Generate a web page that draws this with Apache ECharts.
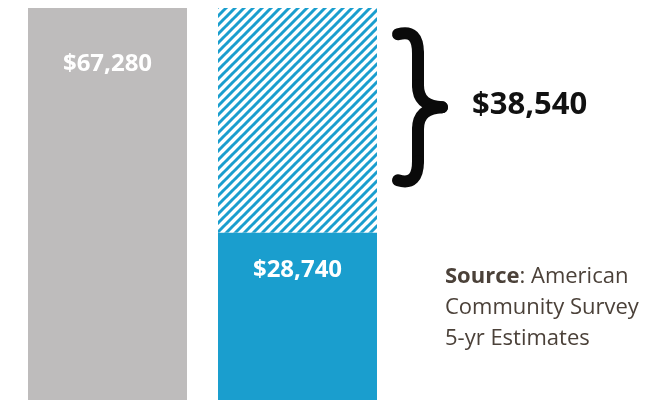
<!DOCTYPE html>
<html>
<head>
<meta charset="utf-8">
<script src="https://cdn.jsdelivr.net/npm/echarts@6/dist/echarts.min.js"></script>
<style>
  html, body { margin: 0; padding: 0; background: #ffffff; }
  #chart { width: 656px; height: 402px; }
</style>
</head>
<body>
<div id="chart"></div>
<script>
// Two columns: the full amount, and the earned part with the shortfall stacked on top
const categories = ['Needed', 'Earned'];
const baseValues = [67280, 28740];
const gapValues = [null, 38540];
const sourceLines = ['{b|Source}: American', 'Community Survey', '5-yr Estimates'];

const GRAY = '#bebcbc';
const BLUE = '#1a9ece';

function money(v) {
  return '$' + Number(v).toLocaleString('en-US');
}

// Diagonal stripe tile for the shortfall segment
function stripeTile() {
  const n = 9;
  const c = document.createElement('canvas');
  c.width = n; c.height = n;
  const g = c.getContext('2d');
  g.fillStyle = '#ffffff';
  g.fillRect(0, 0, n, n);
  g.strokeStyle = BLUE;
  g.lineWidth = 3;
  for (const o of [-n, 0, n]) {
    g.beginPath();
    g.moveTo(o - 1, n + 1);
    g.lineTo(o + n + 1, -1);
    g.stroke();
  }
  return c;
}

const chart = echarts.init(document.getElementById('chart'));

const sourceText = {
  type: 'text',
  left: 445,
  top: 261,
  style: {
    text: sourceLines.join('\n'),
    fill: '#4b4139',
    fontFamily: 'Open Sans',
    fontSize: 22,
    lineHeight: 31,
    rich: {
      b: { fontWeight: 'bold', fontFamily: 'Open Sans', fontSize: 22, fill: '#4b4139', lineHeight: 31 }
    }
  }
};

chart.setOption({
  backgroundColor: '#ffffff',
  animation: false,
  grid: { left: 12.5, width: 380, top: 8, bottom: 2 },
  xAxis: {
    type: 'category',
    data: categories,
    show: false
  },
  yAxis: {
    type: 'value',
    min: 0,
    max: baseValues[0],
    show: false
  },
  series: [
    {
      type: 'bar',
      stack: 'total',
      barWidth: 159,
      data: baseValues.map((v, i) => ({
        value: v,
        itemStyle: { color: i === 0 ? GRAY : BLUE },
        label: { distance: i === 0 ? 44 : 26 }
      })),
      label: {
        show: true,
        position: 'insideTop',
        color: '#ffffff',
        fontFamily: 'Open Sans',
        fontWeight: 'bold',
        fontSize: 24,
        formatter: p => money(p.value)
      }
    },
    {
      type: 'bar',
      stack: 'total',
      barWidth: 159,
      data: gapValues,
      itemStyle: {
        color: { image: stripeTile(), repeat: 'repeat' }
      },
      label: {
        show: true,
        position: 'right',
        distance: 95,
        offset: [0, -15],
        color: '#111111',
        fontFamily: 'Open Sans',
        fontWeight: 'bold',
        fontSize: 31,
        formatter: p => money(p.value)
      }
    }
  ],
  graphic: [sourceText]
});

// Curly brace beside the shortfall segment, placed from the axis scale
const segTop = chart.convertToPixel({ yAxisIndex: 0 }, baseValues[1] + gapValues[1]);
const segBottom = chart.convertToPixel({ yAxisIndex: 0 }, baseValues[1]);
const mid = (segTop + segBottom) / 2 - 13;
const half = 76;
const xTip = 398, xStem = 418, xPoint = 442;
const t = mid - half, b = mid + half;
const braceStyle = { stroke: '#0a0a0a', lineWidth: 12, lineCap: 'round', fill: 'none' };

function curve(x1, y1, c1x, c1y, c2x, c2y, x2, y2) {
  return {
    type: 'bezierCurve',
    shape: { x1: x1, y1: y1, cpx1: c1x, cpy1: c1y, cpx2: c2x, cpy2: c2y, x2: x2, y2: y2 },
    style: braceStyle
  };
}
function seg(x1, y1, x2, y2) {
  return { type: 'line', shape: { x1: x1, y1: y1, x2: x2, y2: y2 }, style: braceStyle };
}

chart.setOption({
  graphic: [
    sourceText,
    curve(xTip, t + 3, xTip + 14, t - 1, xStem, t + 6, xStem, t + 22),
    seg(xStem, t + 22, xStem, mid - 22),
    curve(xStem, mid - 22, xStem, mid - 6, xStem + 10, mid - 1, xPoint, mid),
    curve(xPoint, mid, xStem + 10, mid + 1, xStem, mid + 6, xStem, mid + 22),
    seg(xStem, mid + 22, xStem, b - 22),
    curve(xStem, b - 22, xStem, b - 6, xTip + 14, b + 1, xTip, b - 3)
  ]
});
</script>
</body>
</html>
